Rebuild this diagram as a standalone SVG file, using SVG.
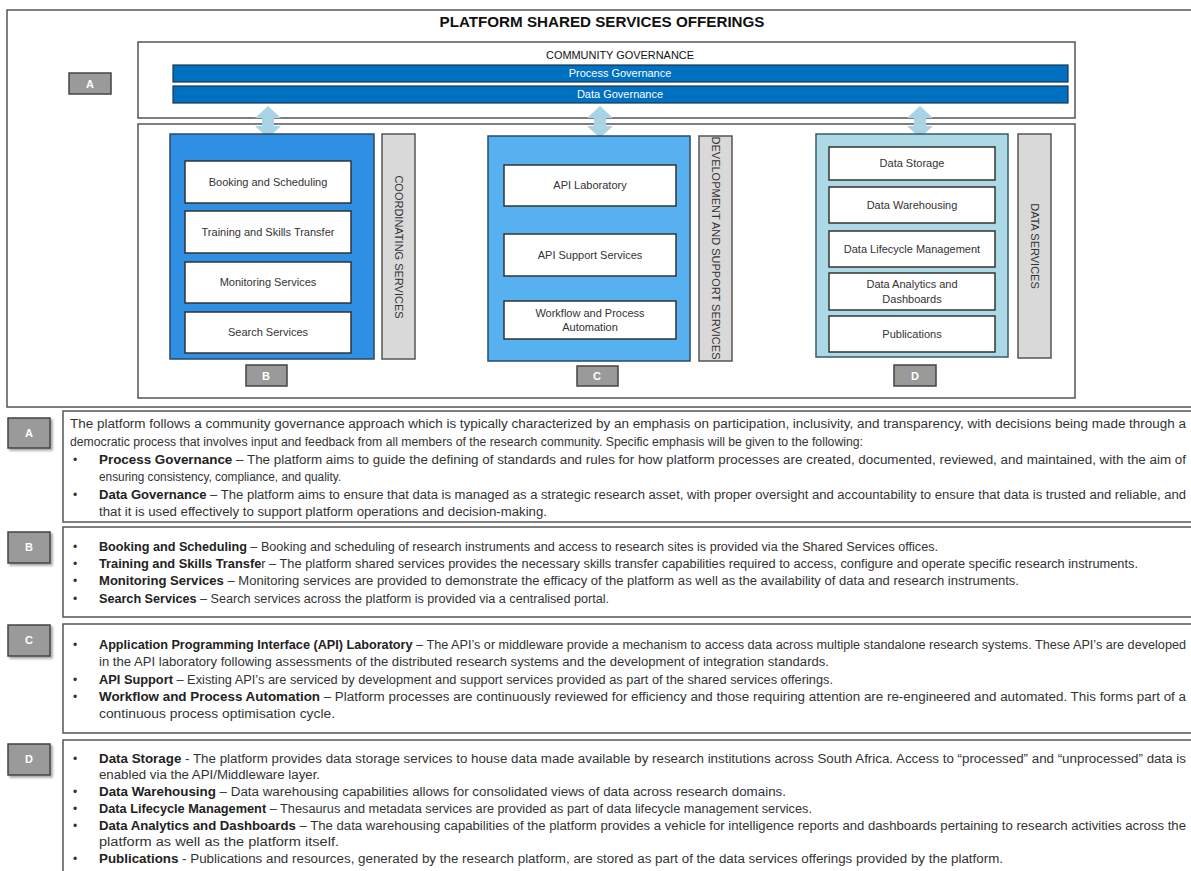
<svg xmlns="http://www.w3.org/2000/svg" width="1191" height="871" viewBox="0 0 1191 871">
<defs>
<style>
text{font-family:"Liberation Sans",Arial,sans-serif;fill:#333}
.frame{fill:#fff;stroke:#555;stroke-width:1.5}
.item{fill:#fff;stroke:#333;stroke-width:1.5}
.item-t{font-size:11px;text-anchor:middle}
.side{fill:#d9d9d9;stroke:#555;stroke-width:1.5}
.side-t{font-size:11px;text-anchor:middle}
.lab{fill:#9a9a9a;stroke:#444;stroke-width:1.5}
.lab-t{font-size:11px;fill:#fff;text-anchor:middle;font-weight:bold}
.gov{fill:#0070c0;stroke:#1a3550;stroke-width:1.2}
.gov-t{font-size:11px;fill:#fff;text-anchor:middle}
.desc{fill:#fff;stroke:#555;stroke-width:1.5}
.body{font-size:12px}
.b{font-weight:bold;fill:#222}
.arrow{fill:#a9d4e3}
</style>
<filter id="sh" x="-20%" y="-20%" width="150%" height="150%"><feDropShadow dx="2" dy="2" stdDeviation="1.2" flood-color="#000" flood-opacity="0.35"/></filter>
</defs>
<rect width="1191" height="871" fill="#fff"/>

<g id="main-frame">
<rect class="frame" x="7" y="10" width="1190" height="397"/>
<text x="602" y="27" font-size="15" font-weight="bold" text-anchor="middle" textLength="325" lengthAdjust="spacingAndGlyphs" style="fill:#111">PLATFORM SHARED SERVICES OFFERINGS</text>
</g>

<g id="community-governance">
<rect class="frame" x="138" y="42" width="937" height="76"/>
<text x="620" y="59" font-size="11" text-anchor="middle" textLength="148" lengthAdjust="spacingAndGlyphs" style="fill:#111">COMMUNITY GOVERNANCE</text>
<rect class="gov" x="173" y="65" width="895" height="17"/>
<text class="gov-t" x="620" y="77">Process Governance</text>
<rect class="gov" x="173" y="86" width="895" height="17"/>
<text class="gov-t" x="620" y="98">Data Governance</text>
</g>

<g id="label-A-top">
<rect class="lab" x="69" y="73" width="42" height="21"/>
<text class="lab-t" x="90" y="88">A</text>
</g>

<g id="services-frame">
<rect class="frame" x="138" y="124" width="937" height="274"/>
</g>

<g id="connectors">
<polygon class="arrow" points="268,106 281,118 274,118 274,126 281,126 268,138 255,126 262,126 262,118 255,118"/>
<polygon class="arrow" points="600,106 613,118 606,118 606,126 613,126 600,138 587,126 594,126 594,118 587,118"/>
<polygon class="arrow" points="920,106 933,118 926,118 926,126 933,126 920,138 907,126 914,126 914,118 907,118"/>
</g>

<g id="group-B">
<rect x="170" y="134" width="204" height="225" fill="#2f8fe3" stroke="#2a4a6a" stroke-width="1.5"/>
<rect class="item" x="185" y="161" width="166" height="42"/>
<text class="item-t" x="268" y="186">Booking and Scheduling</text>
<rect class="item" x="185" y="211" width="166" height="42"/>
<text class="item-t" x="268" y="236">Training and Skills Transfer</text>
<rect class="item" x="185" y="262" width="166" height="41"/>
<text class="item-t" x="268" y="286">Monitoring Services</text>
<rect class="item" x="185" y="312" width="166" height="41"/>
<text class="item-t" x="268" y="336">Search Services</text>
<rect class="side" x="382" y="134" width="33" height="225"/>
<text class="side-t" transform="translate(395,247) rotate(90)">COORDINATING SERVICES</text>
<rect class="lab" x="246" y="365" width="41" height="21"/>
<text class="lab-t" x="266" y="380">B</text>
</g>

<g id="group-C">
<rect x="488" y="136" width="202" height="225" fill="#57b0f0" stroke="#2a4a6a" stroke-width="1.5"/>
<rect class="item" x="504" y="165" width="172" height="41"/>
<text class="item-t" x="590" y="189">API Laboratory</text>
<rect class="item" x="504" y="234" width="172" height="42"/>
<text class="item-t" x="590" y="259">API Support Services</text>
<rect class="item" x="504" y="301" width="172" height="38"/>
<text class="item-t" x="590" y="317">Workflow and Process</text>
<text class="item-t" x="590" y="331">Automation</text>
<rect class="side" x="699" y="136" width="33" height="225"/>
<text class="side-t" transform="translate(712,248) rotate(90)">DEVELOPMENT AND SUPPORT  SERVICES</text>
<rect class="lab" x="577" y="366" width="41" height="20"/>
<text class="lab-t" x="597" y="380">C</text>
</g>

<g id="group-D">
<rect x="816" y="134" width="192" height="223" fill="#add8e6" stroke="#3a5a6a" stroke-width="1.5"/>
<rect class="item" x="829" y="147" width="166" height="33"/>
<text class="item-t" x="912" y="167">Data Storage</text>
<rect class="item" x="829" y="187" width="166" height="36"/>
<text class="item-t" x="912" y="209">Data Warehousing</text>
<rect class="item" x="829" y="231" width="166" height="36"/>
<text class="item-t" x="912" y="253">Data Lifecycle Management</text>
<rect class="item" x="829" y="273" width="166" height="37"/>
<text class="item-t" x="912" y="288">Data Analytics and</text>
<text class="item-t" x="912" y="303">Dashboards</text>
<rect class="item" x="829" y="316" width="166" height="36"/>
<text class="item-t" x="912" y="338">Publications</text>
<rect class="side" x="1018" y="134" width="33" height="224"/>
<text class="side-t" transform="translate(1031,246) rotate(90)">DATA SERVICES</text>
<rect class="lab" x="894" y="365" width="42" height="21"/>
<text class="lab-t" x="915" y="380">D</text>
</g>

<g id="desc-A">
<rect class="lab" x="8" y="418" width="42" height="30" filter="url(#sh)"/>
<text class="lab-t" x="29" y="437">A</text>
<rect class="desc" x="63" y="411" width="1135" height="111"/>
<text class="body" x="70" y="428" textLength="1116" lengthAdjust="spacingAndGlyphs">The platform follows a community governance approach which is typically characterized by an emphasis on participation, inclusivity, and transparency, with decisions being made through a</text>
<text class="body" x="70" y="446" textLength="793" lengthAdjust="spacingAndGlyphs">democratic process that involves input and feedback from all members of the research community. Specific emphasis will be given to the following:</text>
<text class="body" x="73" y="464">•</text>
<text class="body" x="99" y="464" textLength="1087" lengthAdjust="spacingAndGlyphs"><tspan class="b">Process Governance</tspan> – The platform aims to guide the defining of standards and rules for how platform processes are created, documented, reviewed, and maintained, with the aim of</text>
<text class="body" x="99" y="481" textLength="242" lengthAdjust="spacingAndGlyphs">ensuring consistency, compliance, and quality.</text>
<text class="body" x="73" y="499">•</text>
<text class="body" x="99" y="499" textLength="1087" lengthAdjust="spacingAndGlyphs"><tspan class="b">Data Governance</tspan> – The platform aims to ensure that data is managed as a strategic research asset, with proper oversight and accountability to ensure that data is trusted and reliable, and</text>
<text class="body" x="99" y="516" textLength="448" lengthAdjust="spacingAndGlyphs">that it is used effectively to support platform operations and decision-making.</text>
</g>

<g id="desc-B">
<rect class="lab" x="8" y="532" width="42" height="31" filter="url(#sh)"/>
<text class="lab-t" x="29" y="551">B</text>
<rect class="desc" x="63" y="527" width="1135" height="90"/>
<text class="body" x="73" y="551">•</text>
<text class="body" x="99" y="551" textLength="839" lengthAdjust="spacingAndGlyphs"><tspan class="b">Booking and Scheduling</tspan> – Booking and scheduling of research instruments and access to research sites is provided via the Shared Services offices.</text>
<text class="body" x="73" y="568">•</text>
<text class="body" x="99" y="568" textLength="1039" lengthAdjust="spacingAndGlyphs"><tspan class="b">Training and Skills Transfe</tspan>r – The platform shared services provides the necessary skills transfer capabilities required to access, configure and operate specific research instruments.</text>
<text class="body" x="73" y="585">•</text>
<text class="body" x="99" y="585" textLength="920" lengthAdjust="spacingAndGlyphs"><tspan class="b">Monitoring Services</tspan> – Monitoring services are provided to demonstrate the efficacy of the platform as well as the availability of data and research instruments.</text>
<text class="body" x="73" y="603">•</text>
<text class="body" x="99" y="603" textLength="510" lengthAdjust="spacingAndGlyphs"><tspan class="b">Search Services</tspan> – Search services across the platform is provided via a centralised portal.</text>
</g>

<g id="desc-C">
<rect class="lab" x="8" y="625" width="42" height="31" filter="url(#sh)"/>
<text class="lab-t" x="29" y="644">C</text>
<rect class="desc" x="63" y="624" width="1135" height="109"/>
<text class="body" x="73" y="649">•</text>
<text class="body" x="99" y="649" textLength="1087" lengthAdjust="spacingAndGlyphs"><tspan class="b">Application Programming Interface (API) Laboratory</tspan> – The API’s or middleware provide a mechanism to access data across multiple standalone research systems. These API’s are developed</text>
<text class="body" x="99" y="666" textLength="730" lengthAdjust="spacingAndGlyphs">in the API laboratory following assessments of the distributed research systems and the development of integration standards.</text>
<text class="body" x="73" y="684">•</text>
<text class="body" x="99" y="684" textLength="734" lengthAdjust="spacingAndGlyphs"><tspan class="b">API Support</tspan> – Existing API’s are serviced by development and support services provided as part of the shared services offerings.</text>
<text class="body" x="73" y="701">•</text>
<text class="body" x="99" y="701" textLength="1087" lengthAdjust="spacingAndGlyphs"><tspan class="b">Workflow and Process Automation</tspan> –  Platform processes are continuously reviewed for efficiency and those requiring attention are re-engineered and automated. This forms part of a</text>
<text class="body" x="99" y="718" textLength="236" lengthAdjust="spacingAndGlyphs">continuous process optimisation cycle.</text>
</g>

<g id="desc-D">
<rect class="lab" x="8" y="744" width="42" height="31" filter="url(#sh)"/>
<text class="lab-t" x="29" y="763">D</text>
<rect class="desc" x="63" y="740" width="1135" height="140"/>
<text class="body" x="73" y="763">•</text>
<text class="body" x="99" y="763" textLength="1087" lengthAdjust="spacingAndGlyphs"><tspan class="b">Data Storage</tspan> - The platform provides data storage services to house data made available by research institutions across South Africa. Access to “processed” and “unprocessed” data is</text>
<text class="body" x="99" y="779" textLength="221" lengthAdjust="spacingAndGlyphs">enabled via the API/Middleware layer.</text>
<text class="body" x="73" y="796">•</text>
<text class="body" x="99" y="796" textLength="687" lengthAdjust="spacingAndGlyphs"><tspan class="b">Data Warehousing</tspan> – Data warehousing capabilities allows for consolidated views of data across research domains.</text>
<text class="body" x="73" y="813">•</text>
<text class="body" x="99" y="813" textLength="713" lengthAdjust="spacingAndGlyphs"><tspan class="b">Data Lifecycle Management</tspan> – Thesaurus and metadata services are provided as part of data lifecycle management services.</text>
<text class="body" x="73" y="830">•</text>
<text class="body" x="99" y="830" textLength="1087" lengthAdjust="spacingAndGlyphs"><tspan class="b">Data Analytics and Dashboards</tspan> – The data warehousing capabilities of the platform provides a vehicle for intelligence reports and dashboards pertaining to research activities across the</text>
<text class="body" x="99" y="846" textLength="240" lengthAdjust="spacingAndGlyphs">platform as well as the platform itself.</text>
<text class="body" x="73" y="863">•</text>
<text class="body" x="99" y="863" textLength="904" lengthAdjust="spacingAndGlyphs"><tspan class="b">Publications</tspan> - Publications and resources, generated by the research platform, are stored as part of the data services offerings provided by the platform.</text>
</g>
</svg>
